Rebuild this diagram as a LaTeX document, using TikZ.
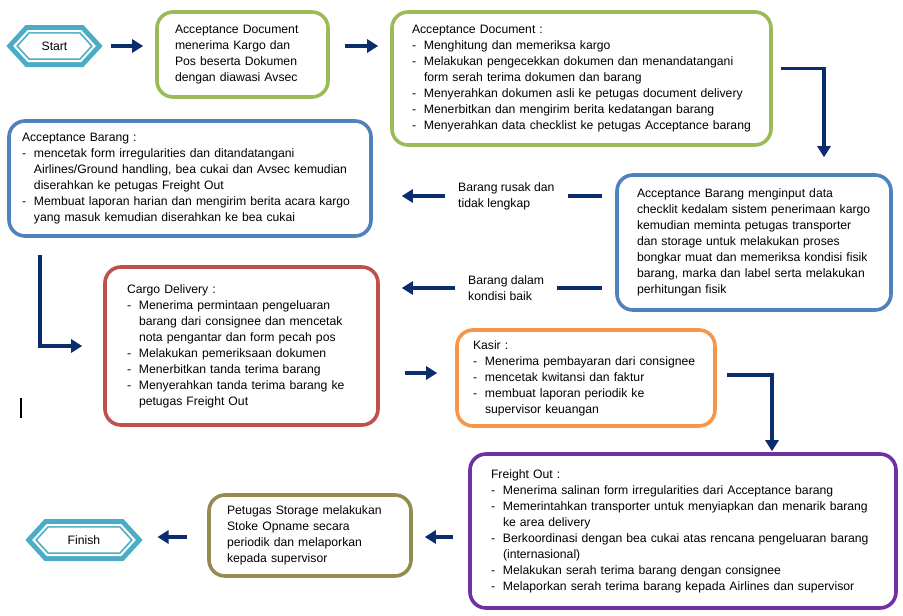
\documentclass[tikz,border=0pt]{standalone}
\usepackage{fontspec}
\setmainfont{Liberation Sans}
\usepackage{tikz}
\usepackage{xcolor}
\usetikzlibrary{shapes.symbols, arrows.meta, positioning}
\definecolor{bxgreen}{HTML}{9BBB59}
\definecolor{bxblue}{HTML}{4F81BD}
\definecolor{bxred}{HTML}{C0504D}
\definecolor{bxorange}{HTML}{F79646}
\definecolor{bxpurple}{HTML}{7030A0}
\definecolor{bxolive}{HTML}{948A54}
\definecolor{termteal}{HTML}{4BACC6}
\definecolor{arrnavy}{HTML}{0B2C6E}
\newcommand{\bul}{\makebox[12pt][l]{-}}
\newcommand{\cont}{\hspace*{12pt}}

\begin{document}
\begin{tikzpicture}[x=1pt, y=-1pt, font=\fontsize{12.2}{16}\selectfont,
  box/.style={draw, rounded corners=16pt, line width=3.6pt, fill=white, align=left, inner ysep=0pt},
  term/.style={signal, signal to=west and east, signal pointer angle=95,
    preaction={draw=termteal, line width=12pt}, fill=white, draw=termteal,
    double=white, double distance=2pt, line width=1.7pt, inner sep=0pt, outer sep=0pt},
  lbl/.style={align=left, inner xsep=13pt, inner ysep=1pt, anchor=west},
  flow/.style={-{Triangle[length=11pt, width=13pt]}, line width=3.8pt, arrnavy},
  link/.style={line width=3.8pt, arrnavy}]
\useasboundingbox (0,0) rectangle (903,616);

\node[term, minimum width=80pt, minimum height=30pt] (start) at (54.5,46) {Start};
\node[box, draw=bxgreen, minimum width=171pt, minimum height=85pt,
      text width=135pt, inner xsep=18pt] (accdoc) at (242.5,54.5)
      {Acceptance Document\\menerima Kargo dan\\Pos beserta Dokumen\\dengan diawasi Avsec};
\node[box, draw=bxgreen, minimum width=379pt, minimum height=133pt,
      text width=339pt, inner xsep=20pt] (accchk) at (581.5,78.5)
      {Acceptance Document :\\
       \bul Menghitung dan memeriksa kargo\\
       \bul Melakukan pengecekkan dokumen dan menandatangani\\
       \cont form serah terima  dokumen dan barang\\
       \bul Menyerahkan dokumen asli ke petugas document delivery\\
       \bul Menerbitkan dan mengirim berita kedatangan barang\\
       \bul Menyerahkan data checklist ke petugas Acceptance barang};
\node[box, draw=bxblue, minimum width=362pt, minimum height=115pt,
      text width=336pt, inner xsep=13pt] (accbrg) at (190,178.5)
      {Acceptance Barang :\\
       \bul mencetak form irregularities dan ditandatangani\\
       \cont Airlines/Ground handling, bea cukai dan Avsec kemudian\\
       \cont diserahkan ke petugas Freight Out\\
       \bul Membuat laporan harian dan mengirim berita acara kargo\\
       \cont yang masuk kemudian diserahkan ke bea cukai};
\node[box, draw=bxblue, minimum width=274pt, minimum height=135pt,
      text width=234pt, inner xsep=20pt] (accinp) at (754,242.5)
      {Acceptance Barang menginput  data\\
       checklit kedalam sistem penerimaan kargo\\
       kemudian meminta petugas transporter\\
       dan storage untuk melakukan proses\\
       bongkar muat dan memeriksa kondisi fisik\\
       barang, marka  dan label serta melakukan\\
       perhitungan fisik};
\node[box, draw=bxred, minimum width=273pt, minimum height=158pt,
      text width=229pt, inner xsep=22pt] (cargo) at (241.5,346)
      {Cargo Delivery :\\
       \bul Menerima permintaan pengeluaran\\
       \cont barang dari consignee dan mencetak\\
       \cont nota pengantar dan form pecah pos\\
       \bul Melakukan pemeriksaan dokumen\\
       \bul Menerbitkan tanda terima barang\\
       \bul Menyerahkan tanda terima barang ke\\
       \cont petugas Freight Out};
\node[box, draw=bxorange, minimum width=258pt, minimum height=96pt,
      text width=226pt, inner xsep=16pt] (kasir) at (586,378)
      {Kasir :\\
       \bul Menerima pembayaran dari consignee\\
       \bul mencetak kwitansi dan faktur\\
       \bul membuat laporan periodik ke\\
       \cont supervisor keuangan};
\node[box, draw=bxpurple, minimum width=426pt, minimum height=154pt,
      text width=384pt, inner xsep=21pt] (freight) at (683,531)
      {Freight Out :\\
       \bul Menerima salinan form irregularities dari Acceptance barang\\
       \bul Memerintahkan transporter untuk menyiapkan dan menarik barang\\
       \cont ke area delivery\\
       \bul Berkoordinasi dengan bea cukai atas rencana pengeluaran barang\\
       \cont (internasional)\\
       \bul Melakukan serah terima barang dengan consignee\\
       \bul Melaporkan serah terima barang kepada Airlines dan supervisor};
\node[box, draw=bxolive, minimum width=202pt, minimum height=81pt,
      text width=166pt, inner xsep=18pt] (storage) at (310,535.5)
      {Petugas Storage melakukan\\Stoke Opname secara\\periodik dan melaporkan\\kepada supervisor};
\node[term, minimum width=101pt, minimum height=30pt] (finish) at (84,540) {Finish};

\node[lbl] (rusak) at (445,196) {Barang rusak dan\\tidak lengkap};
\node[lbl] (baik) at (455,288) {Barang dalam\\kondisi baik};

\draw[flow] ([xshift=16pt]start.east) -- ([xshift=-12pt]accdoc.west |- start.east);
\draw[flow] ([xshift=15pt]accdoc.east |- start.east) -- ([xshift=-12pt]accchk.west |- start.east);
\draw[flow] ([xshift=8pt, yshift=10pt]accchk.east) -| ([xshift=70pt, yshift=16pt]accinp.north);
\draw[link] ([xshift=-13pt]accinp.west |- rusak.east) -- (rusak.east);
\draw[flow] (rusak.west) -- ([xshift=29pt]accbrg.east |- rusak.west);
\draw[link] ([xshift=-13pt]accinp.west |- baik.east) -- (baik.east);
\draw[flow] (baik.west) -- ([xshift=22pt]cargo.east |- baik.west);
\draw[flow] ([xshift=33pt, yshift=-17pt]accbrg.south west) |- ([xshift=-21pt]cargo.west);
\draw[flow] ([xshift=25pt, yshift=-27pt]cargo.east) -- ([xshift=-18pt, yshift=5pt]kasir.west);
\draw[flow] ([xshift=10pt, yshift=3pt]kasir.east) -| ([xshift=89pt, yshift=1pt]freight.north);
\draw[flow] ([xshift=-15pt, yshift=-6pt]freight.west) -- ([xshift=12pt, yshift=-1.5pt]storage.east);
\draw[flow] ([xshift=-20pt, yshift=-1.5pt]storage.west) -- ([xshift=23pt, yshift=3pt]finish.east);
\draw[line width=1.2pt] (21,398) -- (21,418);
\end{tikzpicture}
\end{document}
